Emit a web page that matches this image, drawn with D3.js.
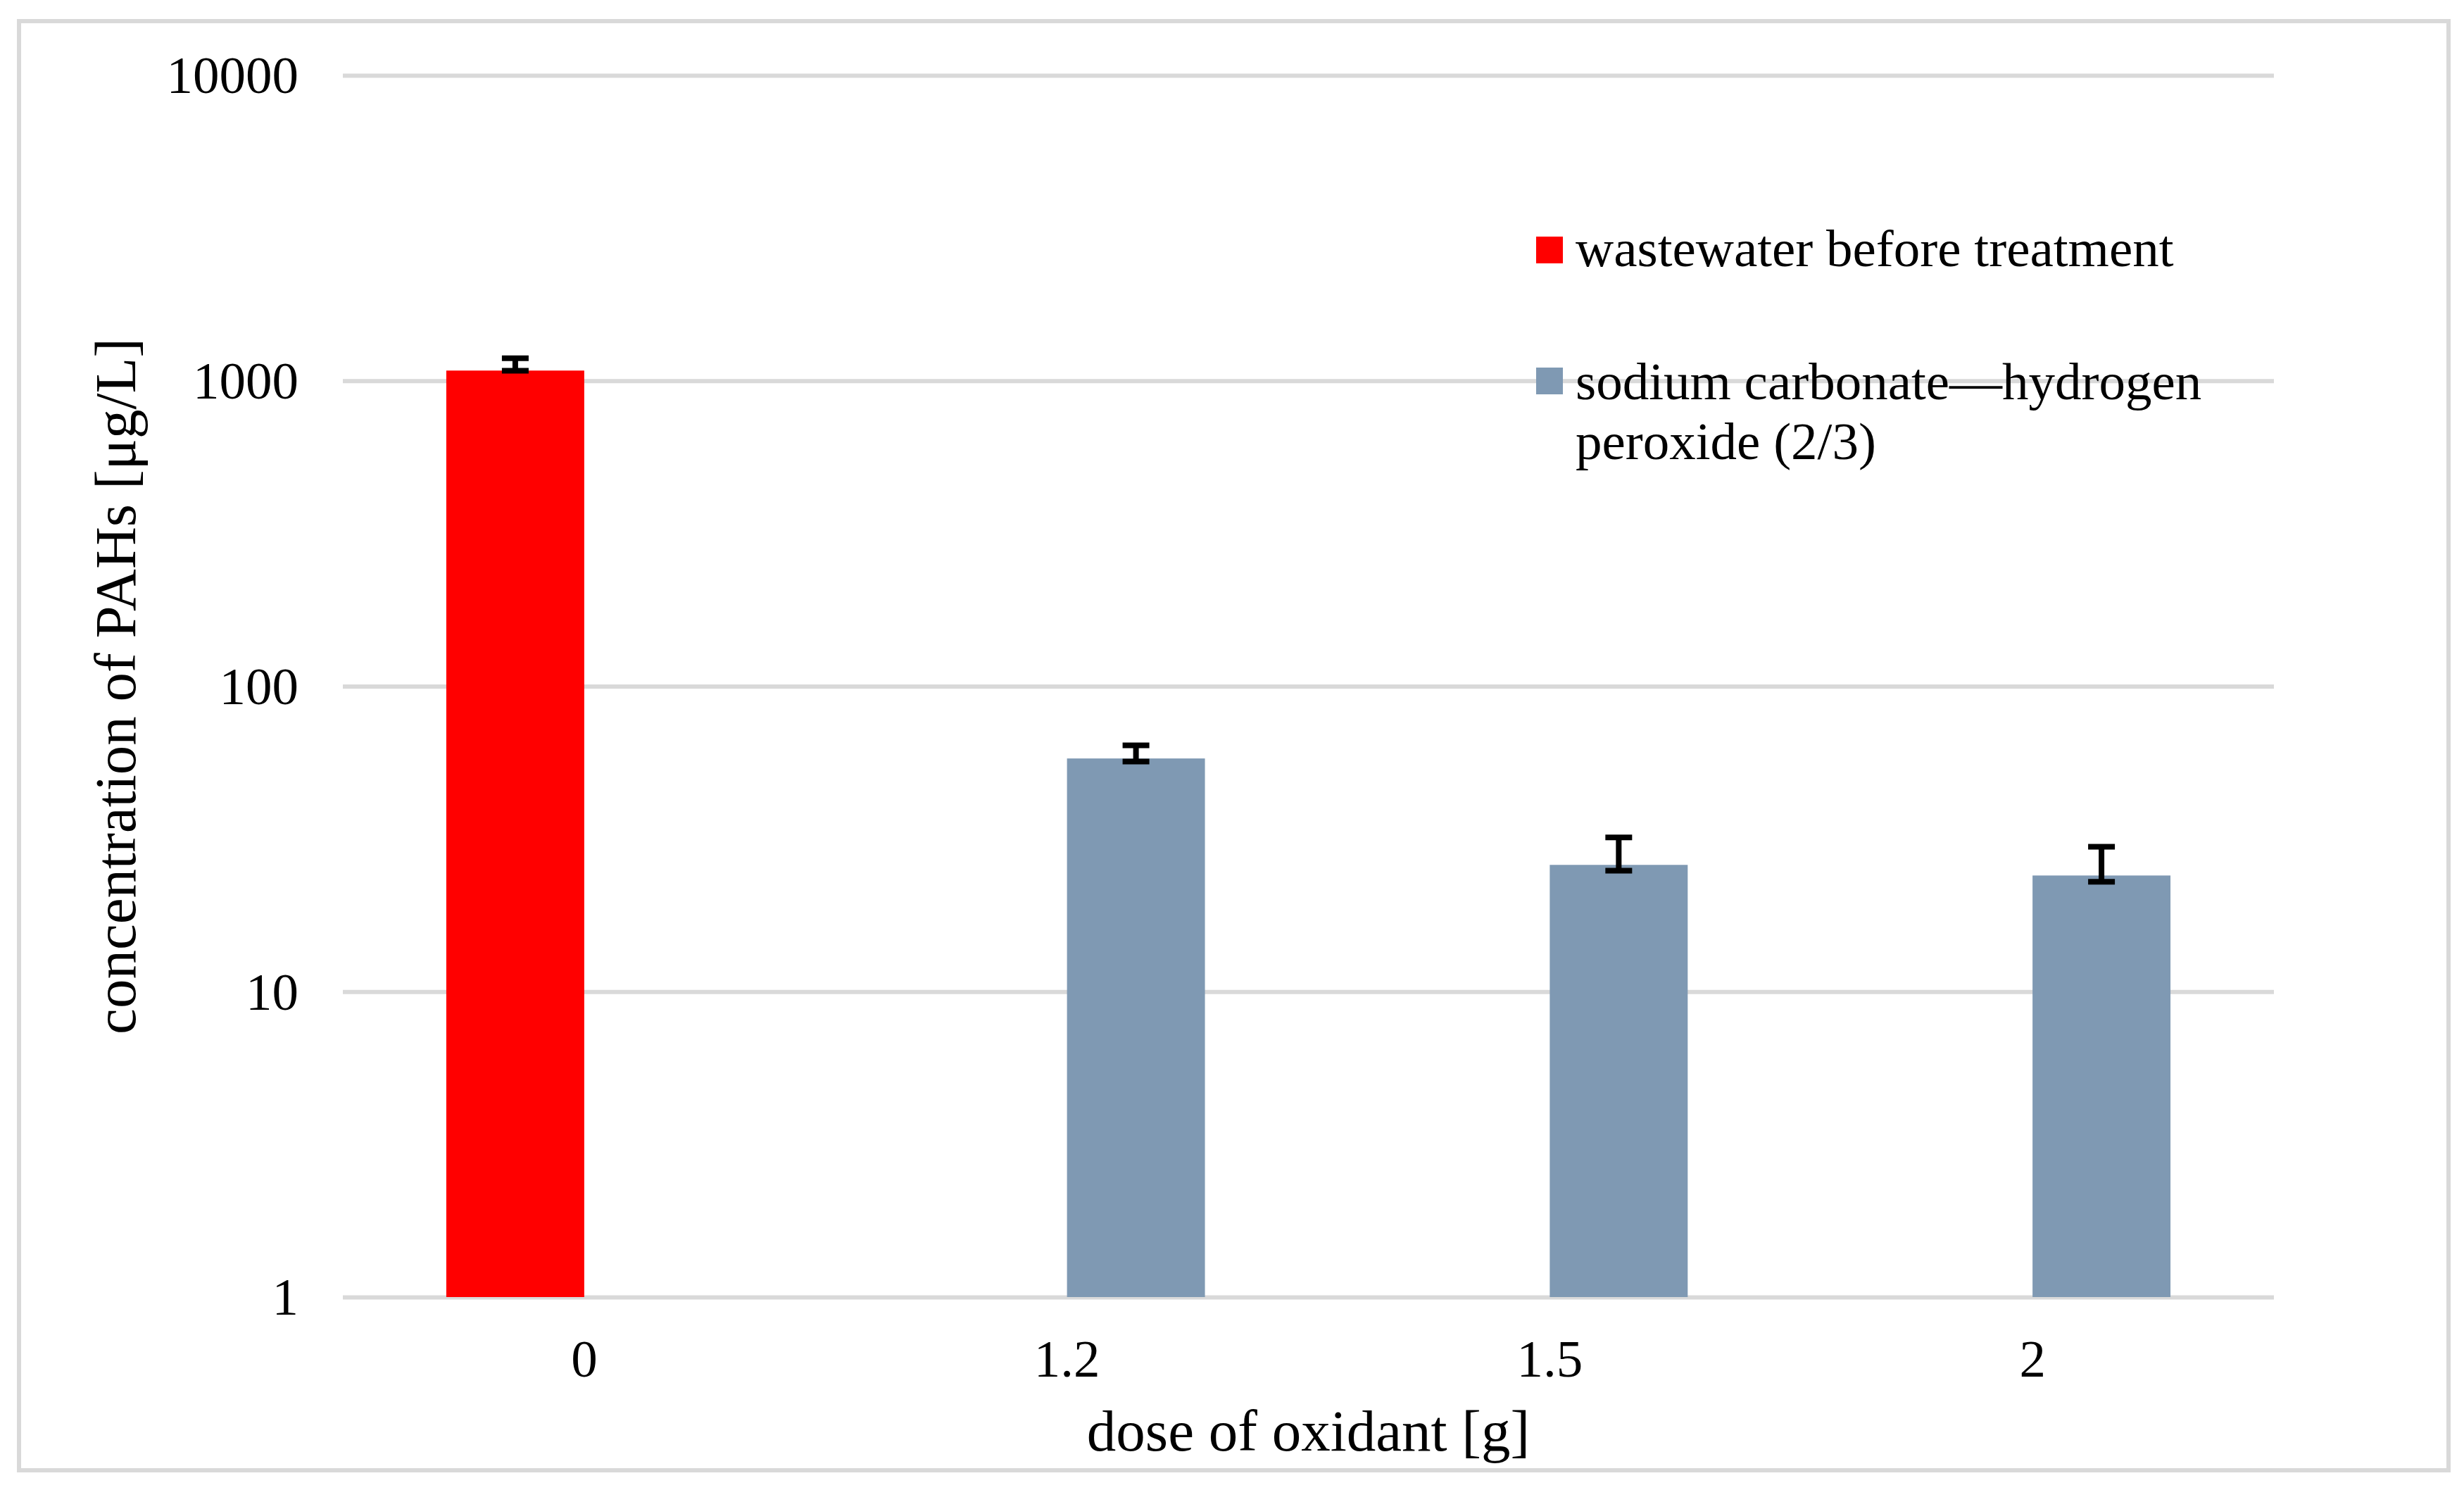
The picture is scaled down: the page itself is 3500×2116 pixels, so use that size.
<!DOCTYPE html>
<html>
<head>
<meta charset="utf-8">
<script src="https://cdn.jsdelivr.net/npm/d3@7"></script>
<style>
  body { margin: 0; background: #fff; }
  text { font-family: "Liberation Serif", "Times New Roman", serif; fill: #000; }
</style>
</head>
<body>
<div id="chart"></div>
<script>
// categories on the x axis (dose of oxidant in g)
const categories = ['0', '1.2', '1.5', '2'];
const seriesNames = ['wastewater before treatment', 'sodium carbonate\u2014hydrogen peroxide (2/3)'];
const seriesColors = ['#ff0000', '#7f99b3'];

// concentration of PAHs [ug/L] per category, null = no bar
const wastewater = [1080, null, null, null];
const sodiumCarbonate = [null, 58, 26, 24];

// error bar ends (low / high) for each category
const errLow = [1078, 56.7, 24.9, 22.9];
const errHigh = [1185, 64, 32, 29.8];

const yTicks = [1, 10, 100, 1000, 10000];

const width = 3500, height = 2116;
const plot = { left: 487, right: 3230, top: 107, bottom: 1842 };

const svg = d3.select('#chart').append('svg')
  .attr('width', width)
  .attr('height', height);

// outer chart border
svg.append('rect')
  .attr('x', 27).attr('y', 30)
  .attr('width', 3451).attr('height', 2058)
  .attr('fill', 'none')
  .attr('stroke', '#d9d9d9')
  .attr('stroke-width', 6);

// scales
const x = d3.scaleBand()
  .domain(categories)
  .range([plot.left, plot.right])
  .paddingInner(3 / 7)
  .paddingOuter(3 / 14);

const xs = d3.scaleBand()
  .domain([0, 1])
  .range([0, x.bandwidth()]);

const y = d3.scaleLog()
  .domain([1, 10000])
  .range([plot.bottom, plot.top]);

// y axis with gridlines
const yAxis = svg.append('g')
  .attr('transform', `translate(${plot.left},0)`)
  .call(d3.axisLeft(y)
    .tickValues(yTicks)
    .tickFormat(d3.format('d'))
    .tickSize(-(plot.right - plot.left))
    .tickPadding(63));
yAxis.select('.domain').remove();
yAxis.selectAll('line').attr('stroke', '#d9d9d9').attr('stroke-width', 6);
yAxis.selectAll('text')
  .attr('font-size', 75)
  .attr('dy', '0.33em')
  .style('font-family', '"Liberation Serif", "Times New Roman", serif')
  .attr('fill', '#000');

// x axis labels
const xAxis = svg.append('g')
  .attr('transform', `translate(0,${plot.bottom})`)
  .call(d3.axisBottom(x).tickSize(0).tickPadding(60));
xAxis.select('.domain').remove();
xAxis.selectAll('text')
  .attr('font-size', 75)
  .style('font-family', '"Liberation Serif", "Times New Roman", serif')
  .attr('fill', '#000');

// bars
const allSeries = [wastewater, sodiumCarbonate];
allSeries.forEach((values, si) => {
  const data = categories.map((c, i) => ({ cat: c, v: values[i] })).filter(d => d.v != null);
  svg.selectAll('.bar-s' + si)
    .data(data)
    .enter()
    .append('rect')
    .attr('class', 'bar-s' + si)
    .attr('x', d => x(d.cat) + xs(si))
    .attr('width', xs.bandwidth())
    .attr('y', d => y(d.v))
    .attr('height', d => y(1) - y(d.v))
    .attr('fill', seriesColors[si]);
});

// error bars
const errData = categories.map((c, i) => ({
  cat: c,
  si: wastewater[i] != null ? 0 : 1,
  lo: errLow[i],
  hi: errHigh[i]
}));
const capHalf = 19;
const eb = svg.selectAll('.err')
  .data(errData)
  .enter()
  .append('g')
  .attr('class', 'err')
  .attr('stroke', '#000')
  .attr('stroke-width', 8);
const cx = d => x(d.cat) + xs(d.si) + xs.bandwidth() / 2;
eb.append('line')
  .attr('x1', cx).attr('x2', cx)
  .attr('y1', d => y(d.lo)).attr('y2', d => y(d.hi));
eb.append('line')
  .attr('x1', d => cx(d) - capHalf).attr('x2', d => cx(d) + capHalf)
  .attr('y1', d => y(d.hi)).attr('y2', d => y(d.hi));
eb.append('line')
  .attr('x1', d => cx(d) - capHalf).attr('x2', d => cx(d) + capHalf)
  .attr('y1', d => y(d.lo)).attr('y2', d => y(d.lo));

// axis titles
svg.append('text')
  .attr('x', (plot.left + plot.right) / 2)
  .attr('y', 2060)
  .attr('text-anchor', 'middle')
  .attr('font-size', 83)
  .text('dose of oxidant [g]');

svg.append('text')
  .attr('transform', `translate(192,${(plot.top + plot.bottom) / 2}) rotate(-90)`)
  .attr('text-anchor', 'middle')
  .attr('font-size', 83)
  .text('concentration of PAHs [\u03bcg/L]');

// legend
const legend = svg.append('g');
const legendRows = [
  { lines: ['wastewater before treatment'], boxY: 336, baseY: 378 },
  { lines: ['sodium carbonate\u2014hydrogen', 'peroxide (2/3)'], boxY: 522, baseY: 567 }
];
legendRows.forEach((row, i) => {
  legend.append('rect')
    .attr('x', 2182).attr('y', row.boxY)
    .attr('width', 38).attr('height', 38)
    .attr('fill', seriesColors[i]);
  const t = legend.append('text')
    .attr('x', 2238)
    .attr('y', row.baseY)
    .attr('font-size', 75);
  row.lines.forEach((ln, j) => {
    t.append('tspan')
      .attr('x', 2238)
      .attr('dy', j === 0 ? 0 : 85)
      .text(ln);
  });
});
</script>
</body>
</html>
